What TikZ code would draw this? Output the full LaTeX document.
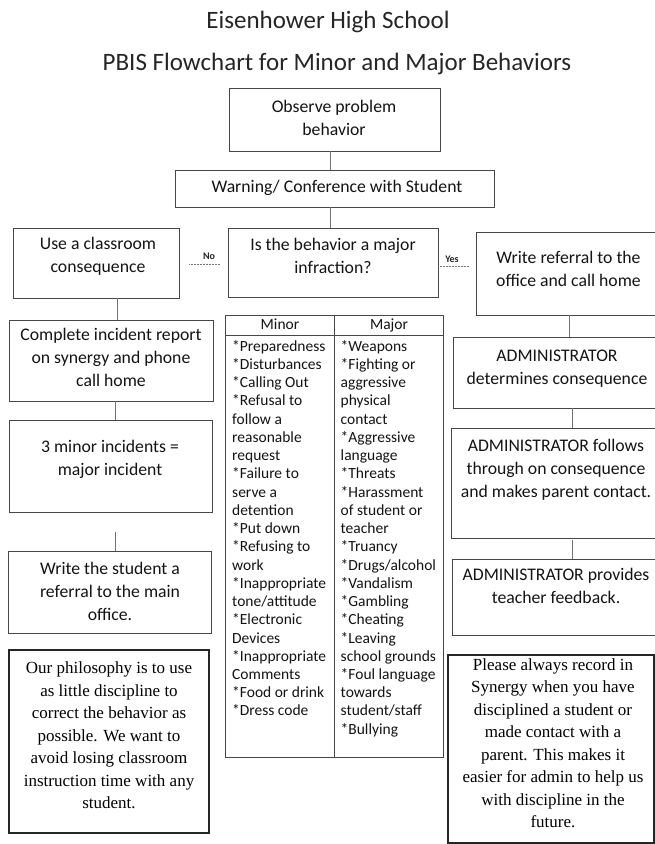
\documentclass[tikz,border=0pt]{standalone}
\usepackage{fontspec}
\setmainfont{Carlito}
\newfontfamily\serifA{Liberation Serif}
\begin{document}
\begin{tikzpicture}[x=1pt,y=-1pt,
  frame/.style={draw=black!72, line width=0.75pt, inner sep=0pt},
  heavy/.style={draw=black!85, line width=2.4pt, inner sep=0pt},
  txt/.style={align=center, inner sep=0pt, text=black!92, font=\fontsize{17.7}{23}\selectfont},
  ttl/.style={inner sep=0pt, text=black!85, font=\fontsize{25}{28}\selectfont},
  ser/.style={align=center, inner sep=0pt, text=black, font=\serifA\fontsize{17}{22.5}\selectfont},
  hdr/.style={inner sep=0pt, text height=10.5pt, text depth=3.5pt, text=black!92, font=\fontsize{15.5}{18.24}\selectfont},
  lst/.style={align=left, inner sep=0pt, anchor=north west, text=black!92, font=\fontsize{15.5}{18.24}\selectfont},
  conn/.style={draw=black!55, line width=0.5pt},
  side/.style={draw=black!55, line width=0.5pt, densely dotted},
  lbl/.style={font=\bfseries\fontsize{10}{12}\selectfont, text=black!85, inner sep=0pt}]
\useasboundingbox (0,0) rectangle (655,844);
\fill[white] (0,0) rectangle (655,844);

% titles
\node[ttl] (t1) at (328,22) {Eisenhower High School};
\node[ttl] (t2) at (337,64) {PBIS Flowchart for Minor and Major Behaviors};

% main flow boxes
\node[frame, minimum width=211pt, minimum height=63pt] (obs) at (334.5,119.5) {};
\node[txt] (obst) at (334,117.5) {Observe problem\\behavior};
\node[frame, minimum width=319pt, minimum height=37pt] (warn) at (334.5,188.5) {};
\node[txt] (warnt) at (337,188) {Warning/ Conference with Student};
\node[frame, minimum width=210pt, minimum height=69pt] (dec) at (333,262.5) {};
\node[txt] (dect) at (333,256) {Is the behavior a major\\infraction?};

% left column
\node[frame, minimum width=166pt, minimum height=70pt] (use) at (96,263) {};
\node[txt] (uset) at (98,256) {Use a classroom\\consequence};
\node[frame, minimum width=204pt, minimum height=81pt] (comp) at (111,360.5) {};
\node[txt] (compt) at (111,357) {Complete incident report\\on synergy and phone\\call home};
\node[frame, minimum width=203pt, minimum height=92pt] (three) at (110.5,466) {};
\node[txt] (threet) at (110,459.5) {3 minor incidents =\\major incident};
\node[frame, minimum width=203pt, minimum height=82pt] (wstu) at (109.5,592) {};
\node[txt] (wstut) at (110,591) {Write the student a\\referral to the main\\office.};
\node[heavy, minimum width=200pt, minimum height=183pt] (phil) at (109,741.5) {};
\node[ser] (philt) at (109,735.5) {Our philosophy is to use\\as little discipline to\\correct the behavior as\\possible. We want to\\avoid losing classroom\\instruction time with any\\student.};

% right column
\node[frame, minimum width=184pt, minimum height=83pt] (ref) at (568,273.5) {};
\node[txt] (reft) at (568.5,268.5) {Write referral to the\\office and call home};
\node[frame, minimum width=207pt, minimum height=71pt] (adet) at (556.5,372.5) {};
\node[txt] (adett) at (557,368.5) {ADMINISTRATOR\\determines consequence};
\node[frame, minimum width=209pt, minimum height=110pt] (afol) at (555.5,483) {};
\node[txt] (afolt) at (556,469.5) {ADMINISTRATOR follows\\through on consequence\\and makes parent contact.};
\node[frame, minimum width=208pt, minimum height=76pt] (aprov) at (556,597) {};
\node[txt] (aprovt) at (556,586) {ADMINISTRATOR provides\\teacher feedback.};
\node[heavy, minimum width=206pt, minimum height=188pt] (please) at (551,749) {};
\node[ser] (pleaset) at (553,743) {Please always record in\\Synergy when you have\\disciplined a student or\\made contact with a\\parent. This makes it\\easier for admin to help us\\with discipline in the\\future.};

% table
\node[frame, minimum width=218pt, minimum height=442pt] (tbl) at (334,536) {};
\draw[draw=black!72, line width=0.75pt] (tbl.west |- 0,335) -- (tbl.east |- 0,335);
\draw[draw=black!72, line width=0.75pt] (tbl.north) -- (tbl.south);
\node[hdr] (hminor) at (280,325.5) {Minor};
\node[hdr] (hmajor) at (389,325.5) {Major};
\node[lst] (lminor) at (232,338.2) {\strut*Preparedness\\*Disturbances\\*Calling Out\\*Refusal to\\follow a\\reasonable\\request\\*Failure to\\serve a\\detention\\*Put down\\*Refusing to\\work\\*Inappropriate\\tone/attitude\\*Electronic\\Devices\\*Inappropriate\\Comments\\*Food or drink\\*Dress code};
\node[lst] (lmajor) at (340.5,338.2) {\strut*Weapons\\*Fighting or\\aggressive\\physical\\contact\\*Aggressive\\language\\*Threats\\*Harassment\\of student or\\teacher\\*Truancy\\*Drugs/alcohol\\*Vandalism\\*Gambling\\*Cheating\\*Leaving\\school grounds\\*Foul language\\towards\\student/staff\\*Bullying};

% connectors
\draw[conn] (obs.south -| 330,0) -- (warn.north -| 330,0);
\draw[conn] (warn.south -| 330,0) -- (dec.north -| 330,0);
\draw[side, shorten <=8pt, shorten >=9pt] (dec.west |- 0,264) -- (use.east |- 0,264);
\node[lbl] (nolbl) at (209,256) {No};
\draw[side, shorten >=6pt] (dec.east |- 0,266) -- (ref.west |- 0,266);
\node[lbl] (yeslbl) at (452,259) {Yes};
\draw[conn] (use.south -| 117,0) -- (comp.north -| 117,0);
\draw[conn] (comp.south -| 115,0) -- (three.north -| 115,0);
\coordinate (gapstart) at (115,532);
\draw[conn] (gapstart) -- (wstu.north -| gapstart);
\draw[conn] (ref.south -| 569,0) -- (adet.north -| 569,0);
\draw[conn] (adet.south -| 572,0) -- (afol.north -| 572,0);
\draw[conn] ([yshift=-2pt]afol.south -| 572,0) -- (aprov.north -| 572,0);
\end{tikzpicture}
\end{document}
